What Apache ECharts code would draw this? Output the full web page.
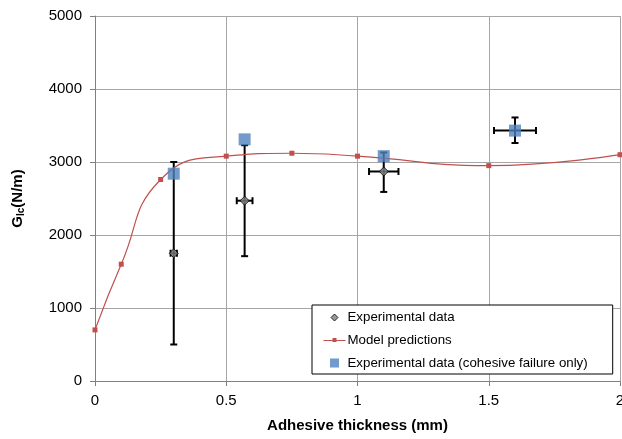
<!DOCTYPE html>
<html>
<head>
<meta charset="utf-8">
<script src="https://cdn.jsdelivr.net/npm/echarts@6/dist/echarts.min.js"></script>
<style>html,body{margin:0;padding:0;background:#fff}#c{width:622px;height:439px}</style>
</head>
<body>
<div id="c"></div>
<script>
// Model predictions
var modelX = [0, 0.1, 0.25, 0.5, 0.75, 1.0, 1.5, 2.0];
var modelY = [700, 1600, 2760, 3080, 3120, 3080, 2950, 3100];
// Experimental data (all)
var expX = [0.3, 0.57, 1.1];
var expY = [1750, 2470, 2870];
var expYLow = [500, 1710, 2590];
var expYHigh = [3000, 3230, 3130];
var expXErr = [0.012, 0.03, 0.056];
// Experimental data (cohesive failure only)
var cohX = [0.3, 0.57, 1.1, 1.6];
var cohY = [2840, 3310, 3080, 3430];
// extra error bar for cohesive point at 1.6
var cohErrX = [1.6];
var cohErrY = [3430];
var cohErrYLow = [3260];
var cohErrYHigh = [3610];
var cohErrXErr = [0.08];

var FONT = '"Liberation Sans", Arial, sans-serif';

var errData = [];
for (var i = 0; i < expX.length; i++) errData.push([expX[i], expY[i], expYLow[i], expYHigh[i], expXErr[i]]);
for (var j = 0; j < cohErrX.length; j++) errData.push([cohErrX[j], cohErrY[j], cohErrYLow[j], cohErrYHigh[j], cohErrXErr[j]]);

function renderErr(params, api) {
  var x = api.value(0), y = api.value(1), lo = api.value(2), hi = api.value(3), xe = api.value(4);
  var pLo = api.coord([x, lo]);
  var pHi = api.coord([x, hi]);
  var pL = api.coord([x - xe, y]);
  var pR = api.coord([x + xe, y]);
  var cap = 3.5;
  var st = {stroke: '#000', lineWidth: 2};
  var shapes = [
    [pLo[0], pLo[1], pHi[0], pHi[1]],
    [pLo[0] - cap, pLo[1], pLo[0] + cap, pLo[1]],
    [pHi[0] - cap, pHi[1], pHi[0] + cap, pHi[1]],
    [pL[0], pL[1], pR[0], pR[1]],
    [pL[0], pL[1] - cap, pL[0], pL[1] + cap],
    [pR[0], pR[1] - cap, pR[0], pR[1] + cap]
  ];
  return {
    type: 'group',
    children: shapes.map(function (s) {
      return {type: 'line', shape: {x1: s[0], y1: s[1], x2: s[2], y2: s[3]}, style: st};
    })
  };
}

// legend icons (box 22x14 kept via invisible move-to points)
var ICON_DIAMOND = 'path://M0 0M22 14M11 3.5L14.5 7L11 10.5L7.5 7Z';
var ICON_LINE = 'path://M0 0M22 14M0 6.4L22 6.4L22 7.6L0 7.6ZM9 4.5L13 4.5L13 8.5L9 8.5Z';
var ICON_SQUARE = 'path://M0 0M22 14M6.5 2.5L15.5 2.5L15.5 11.5L6.5 11.5Z';

var chart = echarts.init(document.getElementById('c'), null, {renderer: 'canvas'});
chart.setOption({
  animation: false,
  backgroundColor: '#fff',
  textStyle: {fontFamily: FONT},
  grid: {left: 95, right: 2, top: 16, bottom: 58, containLabel: false, outerBoundsMode: 'none'},
  legend: {
    orient: 'vertical',
    left: 312,
    top: 305,
    padding: [5, 25, 4, 11],
    itemGap: 8.5,
    itemWidth: 22,
    itemHeight: 14,
    borderColor: '#000',
    borderWidth: 1,
    backgroundColor: '#fff',
    textStyle: {fontFamily: FONT, fontSize: 13.3, color: '#000', padding: [0, 0, 0, -3]},
    data: [
      {name: 'Experimental data', icon: ICON_DIAMOND, itemStyle: {color: '#808080', borderColor: '#000', borderWidth: 1}},
      {name: 'Model predictions', icon: ICON_LINE, itemStyle: {color: '#C0504D', borderWidth: 0}},
      {name: 'Experimental data (cohesive failure only)', icon: ICON_SQUARE, itemStyle: {color: '#4F81BD', borderWidth: 0}}
    ]
  },
  xAxis: {
    type: 'value',
    min: 0, max: 2, interval: 0.5,
    name: 'Adhesive thickness (mm)',
    nameLocation: 'middle',
    nameGap: 37,
    nameTextStyle: {fontFamily: FONT, fontSize: 15, fontWeight: 'bold', color: '#000'},
    axisLine: {show: true, lineStyle: {color: '#808080', width: 1}},
    axisTick: {show: true, length: 5, lineStyle: {color: '#808080'}},
    axisLabel: {fontFamily: FONT, fontSize: 15, color: '#000', margin: 12,
      formatter: function (v) { return String(v); }},
    splitLine: {show: true, lineStyle: {color: '#a6a6a6', width: 1}}
  },
  yAxis: {
    type: 'value',
    min: 0, max: 5000, interval: 1000,
    name: '{a|G}{b|Ic}{a|(N/m)}',
    nameLocation: 'middle',
    nameGap: 69,
    nameRotate: 90,
    nameTextStyle: {
      fontFamily: FONT, color: '#000',
      rich: {
        a: {fontFamily: FONT, fontSize: 15, fontWeight: 'bold', color: '#000'},
        b: {fontFamily: FONT, fontSize: 10, fontWeight: 'bold', color: '#000', verticalAlign: 'bottom', padding: [6, 0, 0, 0]}
      }
    },
    axisLine: {show: true, lineStyle: {color: '#808080', width: 1}},
    axisTick: {show: true, length: 5, lineStyle: {color: '#808080'}},
    axisLabel: {fontFamily: FONT, fontSize: 15, color: '#000', margin: 13,
      formatter: function (v) { return String(v); }},
    splitLine: {show: true, lineStyle: {color: '#a6a6a6', width: 1}}
  },
  series: [
    {
      name: 'errors',
      type: 'custom',
      renderItem: renderErr,
      data: errData,
      z: 2,
      silent: true
    },
    {
      name: 'Model predictions',
      type: 'line',
      smooth: 0.5,
      data: modelX.map(function (x, i) { return [x, modelY[i]]; }),
      symbol: 'rect',
      symbolSize: 5,
      showSymbol: true,
      lineStyle: {color: '#C0504D', width: 1.2},
      itemStyle: {color: '#C0504D'},
      z: 3
    },
    {
      name: 'Experimental data',
      type: 'scatter',
      symbol: 'diamond',
      symbolSize: 9,
      data: expX.map(function (x, i) { return [x, expY[i]]; }),
      itemStyle: {color: '#808080', borderColor: '#000', borderWidth: 1},
      z: 4
    },
    {
      name: 'Experimental data (cohesive failure only)',
      type: 'scatter',
      symbol: 'rect',
      symbolSize: 12,
      data: cohX.map(function (x, i) { return [x, cohY[i]]; }),
      itemStyle: {color: '#4F81BD'},
      z: 5
    }
  ]
});
</script>
</body>
</html>
